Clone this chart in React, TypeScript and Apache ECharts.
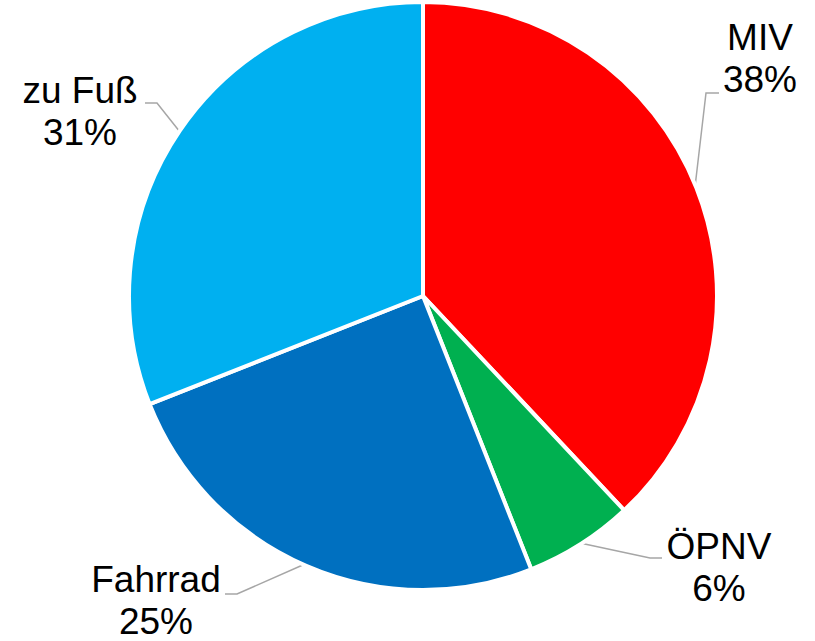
import React, { useEffect, useRef } from "react";
import * as echarts from "echarts";

const categories = ["MIV", "ÖPNV", "Fahrrad", "zu Fuß"];
const values = [38, 6, 25, 31];
const colors = ["#FF0000", "#00B050", "#0070C0", "#00B0F0"];

// label block centres and leader-line points (layout only)
const labelPos = [
  [760, 58],
  [719, 567],
  [156, 600],
  [80, 111],
];
const linePts = [
  [[695, 187], [706, 93], [719, 93]],
  [[580, 543], [650, 558], [662, 558]],
  [[305, 564], [237, 594], [225, 594]],
  [[180, 132], [157, 103], [145, 103]],
];

export default function App() {
  const ref = useRef<HTMLDivElement>(null);
  useEffect(() => {
    if (!ref.current) return;
    const chart = echarts.init(ref.current, null, { renderer: "svg" });
    chart.setOption({
      animation: false,
      backgroundColor: "#ffffff",
      series: [
        {
          type: "pie",
          center: [423, 296],
          radius: [0, 294],
          startAngle: 90,
          clockwise: true,
          data: categories.map((name, i) => ({
            name,
            value: values[i],
            itemStyle: { color: colors[i] },
          })),
          itemStyle: { borderColor: "#ffffff", borderWidth: 4 },
          label: {
            show: true,
            position: "outside",
            formatter: (p: any) => `${p.name}\n${p.value}%`,
            fontFamily: "Liberation Sans, Arial, sans-serif",
            fontSize: 37,
            lineHeight: 42,
            color: "#000000",
            align: "center",
            overflow: "none",
            width: 200,
          },
          labelLine: {
            show: true,
            lineStyle: { color: "#A6A6A6", width: 1.5 },
          },
          labelLayout: (params: any) => {
            const i = params.dataIndex;
            return {
              x: labelPos[i][0],
              y: labelPos[i][1],
              align: "center",
              verticalAlign: "middle",
              labelLinePoints: linePts[i],
            };
          },
          emphasis: { disabled: true },
        },
      ],
    });
    return () => chart.dispose();
  }, []);
  return (
    <div
      ref={ref}
      style={{ position: "fixed", left: 0, top: 0, width: 815, height: 641 }}
    />
  );
}
